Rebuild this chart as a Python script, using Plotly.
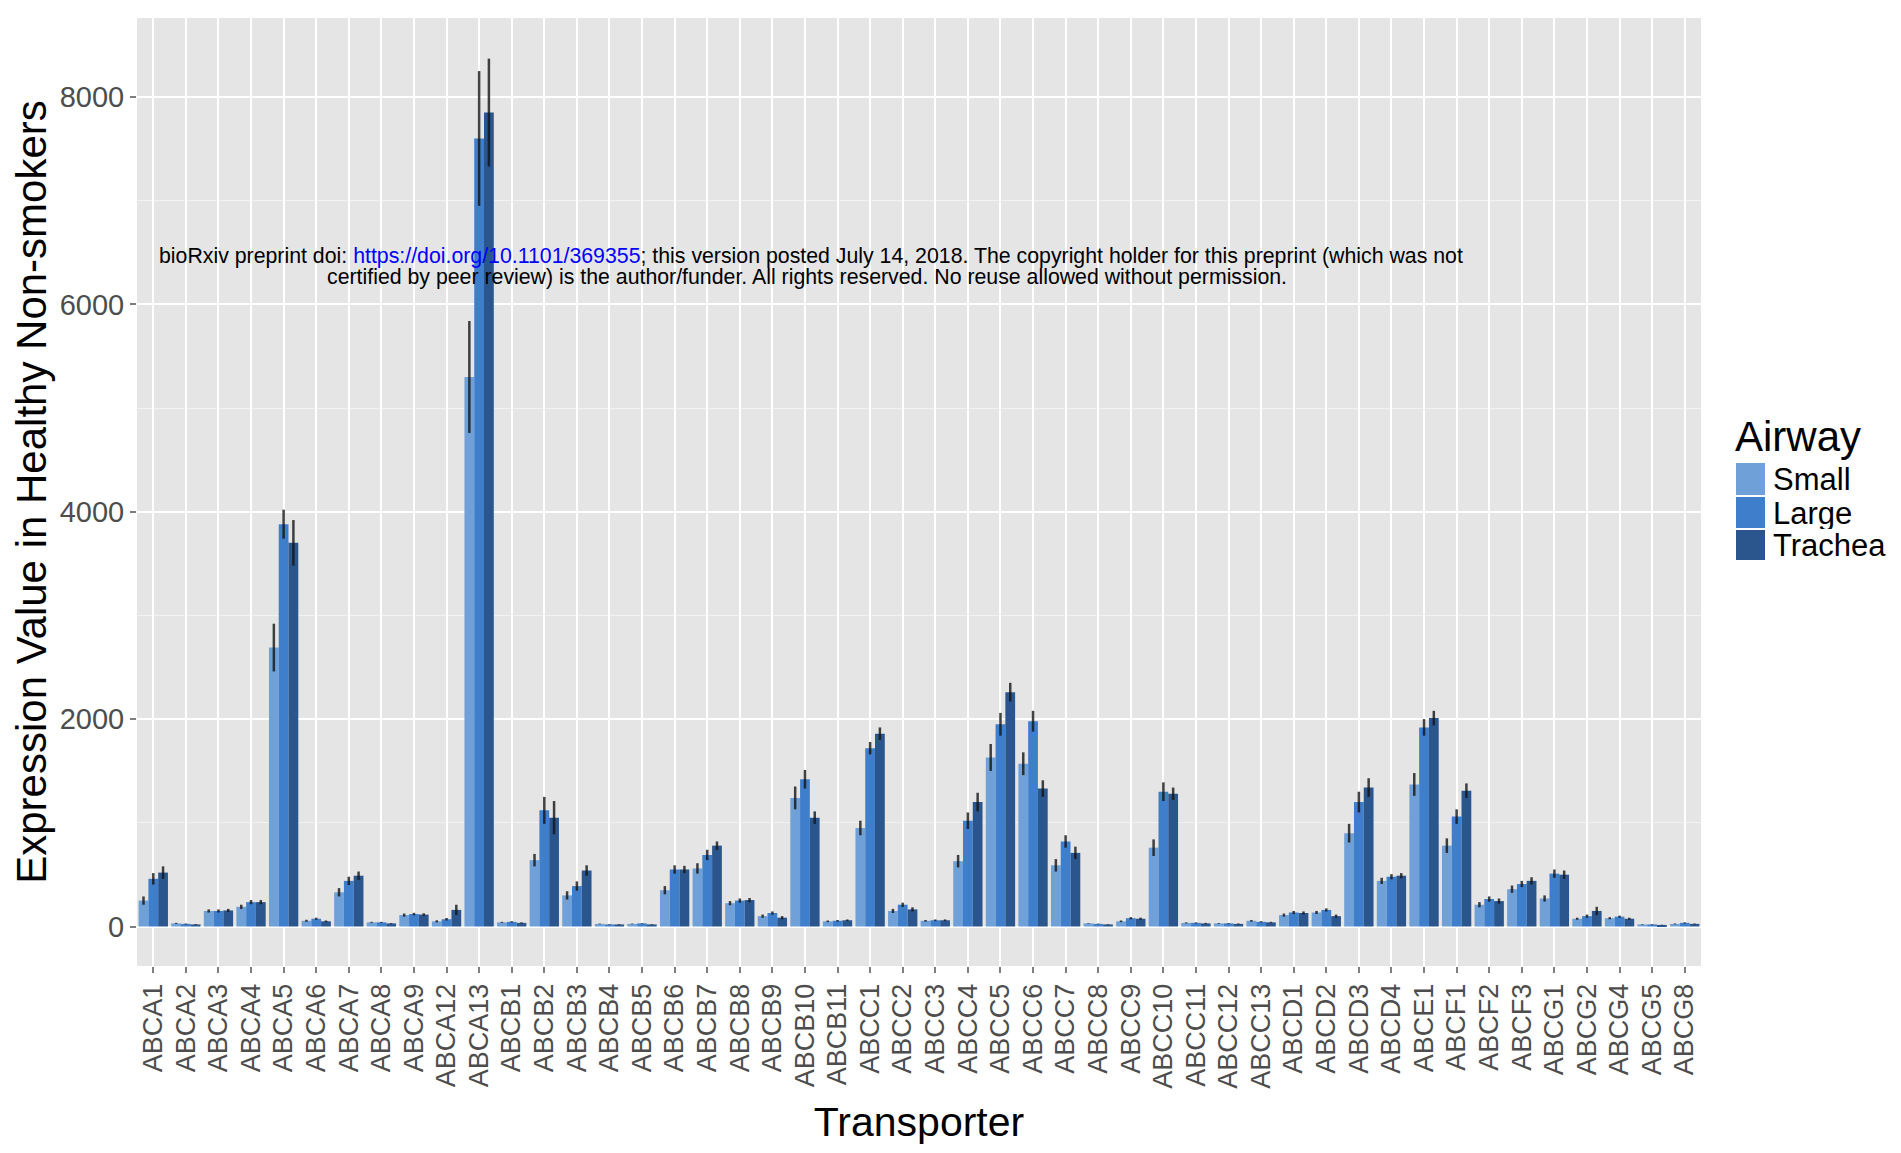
import plotly.graph_objects as go

transporters = ["ABCA1", "ABCA2", "ABCA3", "ABCA4", "ABCA5", "ABCA6", "ABCA7", "ABCA8", "ABCA9", "ABCA12", "ABCA13",
                "ABCB1", "ABCB2", "ABCB3", "ABCB4", "ABCB5", "ABCB6", "ABCB7", "ABCB8", "ABCB9", "ABCB10", "ABCB11",
                "ABCC1", "ABCC2", "ABCC3", "ABCC4", "ABCC5", "ABCC6", "ABCC7", "ABCC8", "ABCC9", "ABCC10", "ABCC11",
                "ABCC12", "ABCC13", "ABCD1", "ABCD2", "ABCD3", "ABCD4", "ABCE1", "ABCF1", "ABCF2", "ABCF3",
                "ABCG1", "ABCG2", "ABCG4", "ABCG5", "ABCG8"]

small = [250, 30, 150, 190, 2690, 55, 330, 40, 110, 50, 5300,
         40, 640, 300, 25, 25, 350, 560, 225, 100, 1240, 50,
         950, 150, 55, 630, 1630, 1570, 590, 30, 50, 760, 35, 30, 55,
         110, 135, 900, 440, 1370, 780, 210, 360, 270, 75, 80, 20, 25]
large = [460, 25, 150, 235, 3880, 75, 440, 40, 120, 70, 7600,
         45, 1120, 390, 20, 30, 550, 690, 250, 130, 1420, 55,
         1720, 210, 60, 1020, 1950, 1980, 820, 25, 80, 1300, 35, 30, 45,
         135, 160, 1200, 480, 1920, 1060, 265, 410, 510, 100, 95, 20, 35]
trachea = [520, 20, 155, 235, 3700, 50, 490, 30, 115, 160, 7850,
           35, 1050, 540, 20, 20, 550, 780, 255, 85, 1050, 60,
           1860, 165, 60, 1200, 2260, 1330, 710, 20, 75, 1280, 30, 25, 40,
           130, 100, 1340, 490, 2010, 1310, 245, 440, 500, 150, 75, 15, 25]

small_err = [40, 5, 15, 20, 230, 10, 40, 5, 15, 10, 540,
             5, 60, 40, 3, 3, 40, 50, 20, 15, 110, 8,
             70, 20, 8, 60, 130, 110, 60, 3, 8, 80, 5, 4, 8,
             15, 15, 90, 30, 110, 70, 25, 35, 30, 10, 10, 3, 4]
large_err = [55, 4, 15, 20, 140, 10, 40, 5, 12, 12, 650,
             6, 130, 45, 3, 3, 40, 50, 20, 15, 90, 8,
             60, 20, 8, 80, 110, 100, 60, 3, 10, 90, 5, 4, 6,
             15, 15, 100, 25, 80, 70, 25, 30, 40, 15, 10, 3, 5]
trachea_err = [60, 4, 15, 20, 220, 8, 40, 4, 12, 50, 520,
               5, 160, 50, 3, 3, 35, 40, 20, 15, 60, 8,
               60, 20, 8, 90, 90, 80, 60, 3, 10, 60, 5, 4, 5,
               15, 15, 90, 25, 70, 70, 25, 35, 40, 40, 10, 2, 4]

airways = ["Small", "Large", "Trachea"]
colors = ["#6FA1D8", "#3F7ECB", "#2B568D"]
y_ticks = [0, 2000, 4000, 6000, 8000]

series = [small, large, trachea]
errors = [small_err, large_err, trachea_err]

# The page body has an 8px margin; figure coordinates are screen coordinates minus 8.
OFF = 8
W, H = 1901 - 2 * OFF, 1153 - 2 * OFF
L, R, T, B = 137 - OFF, 1701 - OFF, 18 - OFF, 966 - OFF


def px(x):  # screen x -> paper
    return (x - OFF - L) / (R - L)


def py(y):  # screen y -> paper
    return (B - (y - OFF)) / (B - T)


fig = go.Figure()
for name, vals, errs, col in zip(airways, series, errors, colors):
    fig.add_trace(go.Bar(
        x=transporters, y=vals, name=name, marker_color=col, marker_line_width=0,
        error_y=dict(type="data", array=errs, visible=True, width=0, thickness=2.5,
                     color="rgba(20,20,20,0.8)"),
        showlegend=False,
    ))

font_family = "Liberation Sans, Arial, sans-serif"

fig.update_layout(
    width=W, height=H,
    margin=dict(l=L, r=W - R, t=T, b=H - B, pad=0, autoexpand=False),
    paper_bgcolor="white", plot_bgcolor="#E5E5E5",
    barmode="group", bargap=0.1, bargroupgap=0,
    font=dict(family=font_family),
    xaxis=dict(
        type="category", categoryorder="array", categoryarray=transporters,
        automargin=False,
        tickangle=-90, tickfont=dict(size=27, color="#4D4D4D"),
        showgrid=True, gridcolor="white", gridwidth=2.4,
        ticks="outside", ticklen=6, tickcolor="#7F7F7F", tickwidth=1.5,
        zeroline=False, showline=False,
        title=dict(text="Transporter", font=dict(size=41, color="black"), standoff=26),
    ),
    yaxis=dict(
        range=[-381, 8762], tickvals=y_ticks, ticktext=[str(v) for v in y_ticks],
        automargin=False,
        tickfont=dict(size=29, color="#4D4D4D"),
        showgrid=True, gridcolor="white", gridwidth=2.4,
        minor=dict(dtick=1000, tick0=0, showgrid=True, gridcolor="#F2F2F2", gridwidth=1.2),
        ticks="outside", ticklen=6, tickcolor="#7F7F7F", tickwidth=1.5,
        zeroline=False, showline=False,
        title=dict(text="Expression Value in Healthy Non-smokers", font=dict(size=42, color="black"),
                   standoff=10),
    ),
)

# Legend drawn manually (large swatches as in the reference)
sw_rows = [(463, 495), (497, 528), (530, 560)]
for (y0, y1), name, col in zip(sw_rows, airways, colors):
    fig.add_shape(type="rect", xref="paper", yref="paper",
                  x0=px(1736), x1=px(1765), y0=py(y1), y1=py(y0),
                  fillcolor=col, line_width=0)
    fig.add_annotation(xref="paper", yref="paper", x=px(1771), y=py((y0 + y1) / 2),
                       text=name, showarrow=False, xanchor="left", yanchor="middle",
                       height=32, valign="middle",
                       font=dict(size=31, color="black"))
fig.add_annotation(xref="paper", yref="paper", x=px(1733), y=py(436),
                   text="Airway", showarrow=False, xanchor="left", yanchor="middle",
                   font=dict(size=42, color="black"))

# bioRxiv watermark
wm_font = dict(size=21.3, color="black", family="Liberation Sans, Arial")
fig.add_annotation(xref="paper", yref="paper", x=px(811), y=py(256),
                   text='bioRxiv preprint doi: <span style="color:#0000FF">https://doi.org/10.1101/369355</span>; '
                        'this version posted July 14, 2018. The copyright holder for this preprint (which was not',
                   showarrow=False, xanchor="center", yanchor="middle", font=wm_font)
fig.add_annotation(xref="paper", yref="paper", x=px(807), y=py(277),
                   text="certified by peer review) is the author/funder. All rights reserved. "
                        "No reuse allowed without permission.",
                   showarrow=False, xanchor="center", yanchor="middle", font=wm_font)

fig.write_html("out.html")
